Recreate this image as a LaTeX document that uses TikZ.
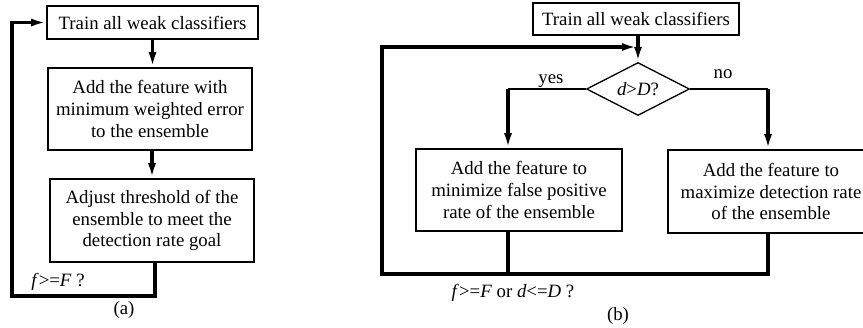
\documentclass[tikz,border=0pt]{standalone}
\usepackage{fontspec}
\setmainfont{Liberation Serif}
\usetikzlibrary{arrows.meta, positioning, shapes.geometric}

\tikzset{
  stepbox/.style={draw, line width=1.6pt, align=center, inner sep=0pt,
    font=\fontsize{18.8}{21.7}\selectfont},
  decision/.style={draw, diamond, aspect=2, line width=1.3pt, inner sep=0pt,
    minimum width=103pt, minimum height=53pt, font=\fontsize{18.8}{21.7}\selectfont},
  lbl/.style={inner sep=0pt, anchor=base, font=\fontsize{18.8}{21.7}\selectfont},
  flow/.style={line width=3.2pt, -{Latex[length=15pt,width=8pt]}},
  thinline/.style={line width=1.4pt}
}

\begin{document}
\begin{tikzpicture}[x=1pt,y=-1pt]
  \useasboundingbox (0,0) rectangle (863,327);

  % (a) cascade with threshold adjustment
  \node[stepbox, minimum width=211pt, minimum height=33pt] (traina) at (152.5,22.5) {Train all weak classifiers};
  \node[stepbox, minimum width=204pt, minimum height=82pt] (adda) at (150,109) {Add the feature with\\minimum weighted error\\to the ensemble};
  \node[stepbox, minimum width=204pt, minimum height=83pt] (adjust) at (152,220.5) {Adjust threshold of the\\ensemble to meet the\\detection rate goal};
  \coordinate (loopa) at (12,296);

  \draw[flow] (traina.south) -- (traina.south |- adda.north);
  \draw[flow] (adjust.north |- adda.south) -- (adjust.north);
  \draw[flow] ([xshift=3pt]adjust.south) |- (loopa) |- (traina.west);

  \node[lbl] (conda) at (58,286) {\textit{f}>=\textit{F} ?};
  \node[lbl] (capa) at (124,314) {(a)};

  % (b) cascade with decision
  \node[stepbox, minimum width=206pt, minimum height=32pt] (trainb) at (636,19) {Train all weak classifiers};
  \node[decision] (dec) at (638,89) {\textit{d}>\textit{D}?};
  \node[stepbox, minimum width=206pt, minimum height=82pt] (minfp) at (519,190) {Add the feature to\\minimize false positive\\rate of the ensemble};
  \node[stepbox, minimum width=206pt, minimum height=83pt] (maxdr) at (771,191.5) {Add the feature to\\maximize detection rate\\of the ensemble};

  \coordinate (yesin) at ([xshift=-11pt]minfp.north);
  \coordinate (yesbend) at (dec.west -| yesin);
  \coordinate (noin) at ([xshift=-3pt]maxdr.north);
  \coordinate (nobend) at (dec.east -| noin);
  \coordinate (loopb) at (382,274);
  \coordinate (join) at (637,47);

  \draw[flow] (trainb.south -| dec.north) -- (dec.north);
  \draw[thinline] (dec.west) -- (yesbend);
  \draw[flow] (yesbend) -- (yesin);
  \draw[thinline] (dec.east) -- (nobend);
  \draw[flow] (nobend) -- (noin);
  \draw[flow] ([xshift=-11pt]minfp.south) |- (loopb) |- (join);
  \draw[line width=3.2pt] ([xshift=-3pt]maxdr.south) |- (loopb);

  \node[lbl] (yes) at (551,83) {yes};
  \node[lbl] (no) at (723,78) {no};
  \node[lbl] (condb) at (513,297) {\textit{f}>=\textit{F} or \textit{d}<=\textit{D} ?};
  \node[lbl] (capb) at (618,320) {(b)};
\end{tikzpicture}
\end{document}
